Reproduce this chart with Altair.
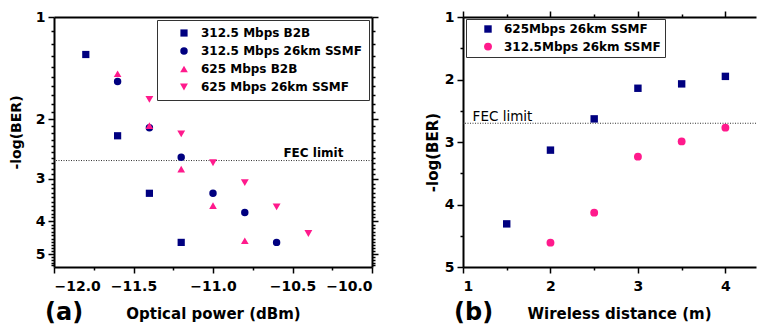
import altair as alt
import pandas as pd

FONT = "DejaVu Sans"
NAVY = "#000080"
PINK = "#FF1A8C"

# ---------------- Panel (a) data ----------------
a_series = ["312.5 Mbps B2B", "312.5 Mbps 26km SSMF", "625 Mbps B2B", "625 Mbps 26km SSMF"]
a_shapes = ["square", "circle", "triangle-up", "triangle-down"]
a_colors = [NAVY, NAVY, PINK, PINK]
a_b2b312_x = [-11.8, -11.6, -11.4, -11.2]
a_b2b312_y = [1.29, 2.24, 3.31, 4.62]
a_ssmf312_x = [-11.6, -11.4, -11.2, -11.0, -10.8, -10.6]
a_ssmf312_y = [1.55, 2.12, 2.59, 3.31, 3.77, 4.62]
a_b2b625_x = [-11.6, -11.4, -11.2, -11.0, -10.8]
a_b2b625_y = [1.47, 2.09, 2.81, 3.60, 4.57]
a_ssmf625_x = [-11.4, -11.2, -11.0, -10.8, -10.6, -10.4]
a_ssmf625_y = [1.75, 2.21, 2.69, 3.08, 3.63, 4.35]
a_fec = 2.65
a_fec_text_x = -10.18
a_x_domain = [-12.0, -10.0]
a_y_domain = [1.0, 5.46]
a_x_ticks = [round(-12.0 + 0.25 * i, 2) for i in range(9)]
a_y_ticks = [round(1.0 + 0.1 * i, 1) for i in range(45)]

# ---------------- Panel (b) data ----------------
b_series = ["625Mbps 26km SSMF", "312.5Mbps 26km SSMF"]
b_shapes = ["square", "circle"]
b_colors = [NAVY, PINK]
b_625_x = [1.5, 2.0, 2.5, 3.0, 3.5, 4.0]
b_625_y = [4.31, 3.13, 2.63, 2.14, 2.07, 1.95]
b_312_x = [2.0, 2.5, 3.0, 3.5, 4.0]
b_312_y = [4.61, 4.13, 3.235, 2.99, 2.77]
b_fec = 2.70
b_fec_text_x = 1.11
b_x_domain = [1.0, 4.35]
b_y_domain = [1.0, 5.0]
b_x_ticks = [1.0, 1.5, 2.0, 2.5, 3.0, 3.5, 4.0]
b_y_ticks = [1.0, 1.5, 2.0, 2.5, 3.0, 3.5, 4.0, 4.5, 5.0]

rows = []
for name, xs, ys in zip(a_series, [a_b2b312_x, a_ssmf312_x, a_b2b625_x, a_ssmf625_x],
                        [a_b2b312_y, a_ssmf312_y, a_b2b625_y, a_ssmf625_y]):
    for xv, yv in zip(xs, ys):
        rows.append({"power": xv, "ber": yv, "seriesA": name})
df_a = pd.DataFrame(rows)

rows = []
for name, xs, ys in zip(b_series, [b_625_x, b_312_x], [b_625_y, b_312_y]):
    for xv, yv in zip(xs, ys):
        rows.append({"dist": xv, "ber": yv, "seriesB": name})
df_b = pd.DataFrame(rows)

one_row = pd.DataFrame({"k": [0]})

INT_TEST = "abs(datum.value - round(datum.value)) < 0.001"
HALF_TEST = "abs(datum.value*2 - round(datum.value*2)) < 0.001"

def ax(values, test, label_expr, orient, labels=True, ticks=True, title="", title_size=15,
       label_pad=3, title_pad=8, **extra):
    kw = dict(
        values=values, orient=orient, title=title,
        labelFont=FONT, labelFontSize=14, labelFontWeight="bold", labelColor="black",
        titleFont=FONT, titleFontSize=title_size, titleFontWeight="bold", titleColor="black",
        domainColor="black", domainWidth=2, tickColor="black", tickWidth=1.5,
        tickSize={"condition": {"test": test, "value": 6}, "value": 3},
        labelOverlap=False, grid=False, labelPadding=label_pad, titlePadding=title_pad,
        labels=labels, ticks=ticks,
    )
    kw.update(extra)
    if labels:
        kw["labelExpr"] = label_expr
    return alt.Axis(**kw)

# ---------------- Panel (a) chart ----------------
xa = alt.Scale(domain=a_x_domain, nice=False, zero=False)
ya = alt.Scale(type="log", domain=a_y_domain, nice=False, reverse=True)

pts_a = alt.Chart(df_a).mark_point(filled=True, opacity=1).encode(
    x=alt.X("power:Q", scale=xa,
            axis=ax(a_x_ticks, HALF_TEST, f"{HALF_TEST} ? format(datum.value, '.1f') : ''",
                    "bottom", title="Optical power (dBm)", label_pad=6, title_pad=13)),
    y=alt.Y("ber:Q", scale=ya,
            axis=ax(a_y_ticks, INT_TEST, f"{INT_TEST} ? format(datum.value, 'd') : ''",
                    "left", title="-log(BER)", title_size=14, title_pad=12, titleY=115)),
    color=alt.Color("seriesA:N", scale=alt.Scale(domain=a_series, range=a_colors),
                    legend=alt.Legend(title=None, orient="none", legendX=103, legendY=3,
                                      padding=7, symbolOffset=14, labelOffset=11,
                                      rowPadding=6, strokeColor="#333333", fillColor="white",
                                      labelFont=FONT, labelFontSize=12, labelFontWeight="bold",
                                      labelColor="black", symbolSize=60, labelLimit=400)),
    shape=alt.Shape("seriesA:N", scale=alt.Scale(domain=a_series, range=a_shapes)),
    size=alt.Size("seriesA:N", scale=alt.Scale(domain=a_series, range=[52, 62, 78, 78]), legend=None),
)
mirror_a = alt.Chart(df_a).mark_point(opacity=0).encode(
    x=alt.X("power:Q", scale=xa, axis=ax(a_x_ticks, HALF_TEST, "", "top", labels=False, ticks=False)),
    y=alt.Y("ber:Q", scale=ya, axis=ax(a_y_ticks, INT_TEST, "", "right", labels=False)),
)
fec_a = alt.Chart(one_row).mark_rule(color="#333333", strokeWidth=1, strokeDash=[1, 1.5]).encode(
    y=alt.datum(a_fec, scale=ya, axis=None))
fec_a_txt = alt.Chart(one_row).mark_text(text="FEC limit", align="right", baseline="alphabetic", dy=-4,
                                         font=FONT, fontSize=12, fontWeight="bold", color="black").encode(
    x=alt.datum(a_fec_text_x, scale=xa, axis=None), y=alt.datum(a_fec, scale=ya, axis=None))

chart_a = alt.layer(fec_a, fec_a_txt, pts_a, mirror_a).resolve_axis(
    x="independent", y="independent").properties(
    width=318, height=250,
    title=alt.TitleParams("(a)", orient="bottom", anchor="start", frame="group", dx=-9, offset=-20,
                          font=FONT, fontSize=24, fontWeight="bold", color="black"))

# ---------------- Panel (b) chart ----------------
xb = alt.Scale(domain=b_x_domain, nice=False, zero=False)
yb = alt.Scale(domain=b_y_domain, nice=False, zero=False, reverse=True)

pts_b = alt.Chart(df_b).mark_point(filled=True, opacity=1).encode(
    x=alt.X("dist:Q", scale=xb,
            axis=ax(b_x_ticks, INT_TEST, f"{INT_TEST} ? format(datum.value, 'd') : ''",
                    "bottom", title="Wireless distance (m)", label_pad=6, title_pad=13, titleX=156)),
    y=alt.Y("ber:Q", scale=yb,
            axis=ax(b_y_ticks, INT_TEST, f"{INT_TEST} ? format(datum.value, 'd') : ''",
                    "left", title="-log(BER)", title_pad=4, titleY=135)),
    color=alt.Color("seriesB:N", scale=alt.Scale(domain=b_series, range=b_colors),
                    legend=alt.Legend(title=None, orient="none", legendX=3, legendY=2,
                                      padding=4, symbolOffset=12, labelOffset=10,
                                      rowPadding=5.6, strokeColor="#333333", fillColor="white",
                                      labelFont=FONT, labelFontSize=12, labelFontWeight="bold",
                                      labelColor="black", symbolSize=60, labelLimit=400)),
    shape=alt.Shape("seriesB:N", scale=alt.Scale(domain=b_series, range=b_shapes)),
    size=alt.Size("seriesB:N", scale=alt.Scale(domain=b_series, range=[55, 62]), legend=None),
)
mirror_b = alt.Chart(df_b).mark_point(opacity=0).encode(
    x=alt.X("dist:Q", scale=xb, axis=ax(b_x_ticks, INT_TEST, "", "top", labels=False)),
)
fec_b = alt.Chart(one_row).mark_rule(color="#333333", strokeWidth=1, strokeDash=[1, 1.5]).encode(
    y=alt.datum(b_fec, scale=yb, axis=None))
fec_b_txt = alt.Chart(one_row).mark_text(text="FEC limit", align="left", baseline="alphabetic", dy=-2,
                                         font=FONT, fontSize=13.5, fontWeight="normal", color="black").encode(
    x=alt.datum(b_fec_text_x, scale=xb, axis=None), y=alt.datum(b_fec, scale=yb, axis=None))

chart_b = alt.layer(fec_b, fec_b_txt, pts_b, mirror_b).resolve_axis(
    x="independent", y="independent").properties(
    width=293, height=250,
    title=alt.TitleParams("(b)", orient="bottom", anchor="start", frame="group", dx=-9, offset=-20,
                          font=FONT, fontSize=24, fontWeight="bold", color="black"))

chart = alt.hconcat(chart_a, chart_b, spacing=46).resolve_scale(
    color="independent", shape="independent", size="independent", x="independent", y="independent"
).resolve_legend(color="independent", shape="independent", size="independent").properties(
    padding={"left": 1, "top": 2, "right": 0, "bottom": 0}
).configure_view(stroke=None)

chart.save("out.html", embed_options={"renderer": "svg", "actions": False})
